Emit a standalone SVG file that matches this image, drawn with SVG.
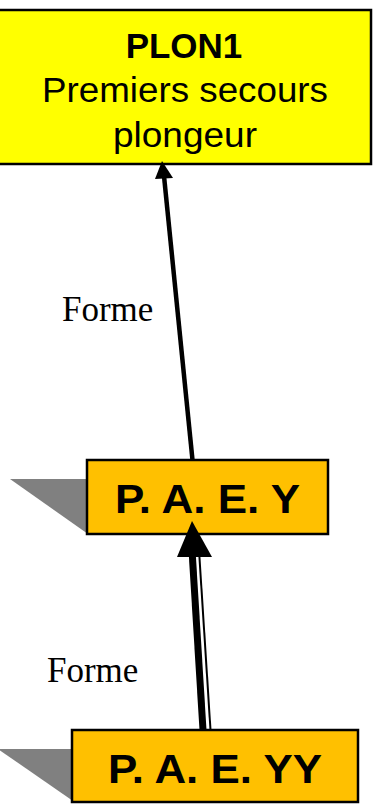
<svg xmlns="http://www.w3.org/2000/svg" width="374" height="806" viewBox="0 0 374 806">
<style>
.box{stroke:#000;stroke-width:2.5}
.yel{fill:#FFFF00}
.org{fill:#FFC000}
.shadow{fill:#808080}
.t{font-family:"Liberation Sans",Arial,sans-serif;text-anchor:middle;fill:#000}
.b{font-weight:bold}
.lbl{font-family:"Liberation Serif","Times New Roman",serif;font-size:35px;fill:#000}
.ln{stroke:#000;fill:none}
</style>
<rect width="374" height="806" fill="#fff"/>
<g id="plon1">
  <rect class="box yel" x="-3" y="10" width="374" height="154"/>
  <text class="t b" x="184" y="58" font-size="35">PLON1</text>
  <text class="t" x="185" y="102" font-size="35" textLength="286" lengthAdjust="spacingAndGlyphs">Premiers secours</text>
  <text class="t" x="185" y="147" font-size="35" textLength="144" lengthAdjust="spacingAndGlyphs">plongeur</text>
</g>
<g id="paey">
  <polygon class="shadow" points="10,479 88,479 88,534"/>
  <rect class="box org" x="87" y="460" width="241" height="74"/>
  <text class="t b" x="207.5" y="513" font-size="40" textLength="185" lengthAdjust="spacingAndGlyphs">P. A. E. Y</text>
</g>
<g id="paeyy">
  <polygon class="shadow" points="-2,749 73,749 73,801"/>
  <rect class="box org" x="72" y="730" width="286" height="72"/>
  <text class="t b" x="215" y="783" font-size="40" textLength="214" lengthAdjust="spacingAndGlyphs">P. A. E. YY</text>
</g>
<g id="connectors">
  <line class="ln" x1="192.5" y1="460" x2="164" y2="176" stroke-width="4.5"/>
  <polygon points="162,161 155,179 173,178" fill="#000"/>
  <text class="lbl" x="62" y="321">Forme</text>
  <line class="ln" x1="192.3" y1="555" x2="203" y2="730" stroke-width="7"/>
  <line class="ln" x1="199.3" y1="555" x2="210.5" y2="730" stroke-width="2"/>
  <polygon points="192,521 177,557 212,557" fill="#000"/>
  <text class="lbl" x="47" y="682">Forme</text>
</g>
</svg>
